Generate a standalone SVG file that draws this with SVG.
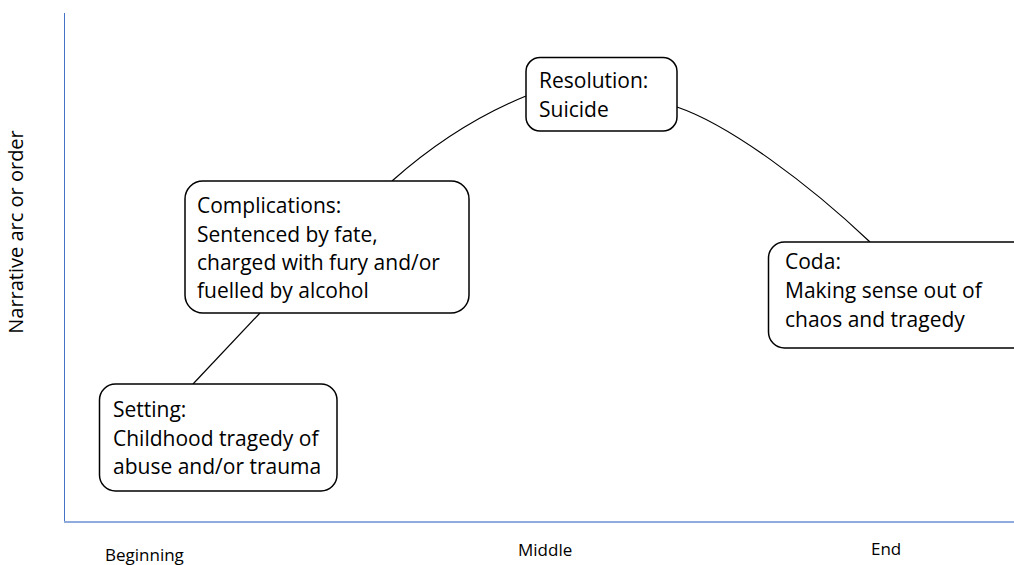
<svg xmlns="http://www.w3.org/2000/svg" width="1014" height="565" viewBox="0 0 1014 565">
<style>
.box{fill:#fff;stroke:#000;stroke-width:1.5}
.t{font-family:"Open Sans","Liberation Sans",sans-serif;font-size:21px;fill:#000}
.ax{font-family:"Open Sans","Liberation Sans",sans-serif;font-size:17px;fill:#000}
.c{fill:none;stroke:#000;stroke-width:1.2}
</style>
<rect width="1014" height="565" fill="#fff"/>
<g id="axes">
<line x1="64.5" y1="13" x2="64.5" y2="522" stroke="#4472C4" stroke-width="1"/>
<line x1="64" y1="522" x2="1014" y2="522" stroke="#8FAADC" stroke-width="2"/>
<text class="ax" transform="translate(23,232) rotate(-90)" text-anchor="middle" style="font-size:20px">Narrative arc or order</text>
<text class="ax" x="105" y="561">Beginning</text>
<text class="ax" x="518" y="556">Middle</text>
<text class="ax" x="871" y="555">End</text>
</g>
<g id="connectors">
<line class="c" x1="193" y1="384" x2="260" y2="313"/>
<path class="c" d="M392,181 Q455,125 526,96"/>
<path class="c" d="M677,107 C730,125 810,185 870,242"/>
</g>
<g id="setting">
<rect class="box" x="99.5" y="384" width="237.5" height="107" rx="16"/>
<text class="t" x="113" y="417">Setting:</text>
<text class="t" x="113" y="446">Childhood tragedy of</text>
<text class="t" x="113" y="474">abuse and/or trauma</text>
</g>
<g id="complications">
<rect class="box" x="185" y="181" width="284" height="132" rx="18"/>
<text class="t" x="197" y="213">Complications:</text>
<text class="t" x="197" y="242">Sentenced by fate,</text>
<text class="t" x="197" y="270">charged with fury and/or</text>
<text class="t" x="197" y="298">fuelled by alcohol</text>
</g>
<g id="resolution">
<rect class="box" x="526" y="57.5" width="151" height="73.5" rx="14"/>
<text class="t" x="539" y="88">Resolution:</text>
<text class="t" x="539" y="117">Suicide</text>
</g>
<g id="coda">
<rect class="box" x="768.5" y="242" width="270" height="106" rx="16"/>
<text class="t" x="785" y="269">Coda:</text>
<text class="t" x="785" y="298">Making sense out of</text>
<text class="t" x="785" y="327">chaos and tragedy</text>
</g>
</svg>
